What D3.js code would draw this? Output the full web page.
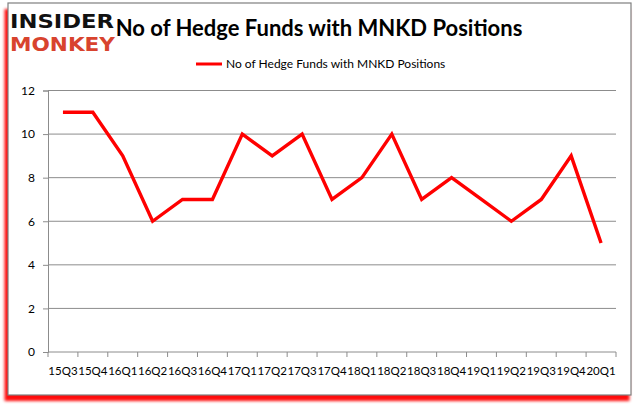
<!DOCTYPE html>
<html><head><meta charset="utf-8">
<script src="https://cdn.jsdelivr.net/npm/d3@7"></script>
<style>
body{margin:0;background:#fff;}
svg{display:block;font-family:Lato,"Liberation Sans",sans-serif;}
</style></head>
<body><svg id="c" width="637" height="408"></svg>
<script>
const categories = ["15Q3","15Q4","16Q1","16Q2","16Q3","16Q4","17Q1","17Q2","17Q3","17Q4","18Q1","18Q2","18Q3","18Q4","19Q1","19Q2","19Q3","19Q4","20Q1"];
const values = [11,11,9,6,7,7,10,9,10,7,8,10,7,8,7,6,7,9,5];
const yTicks = [0,2,4,6,8,10,12];
const seriesName = "No of Hedge Funds with MNKD Positions";
const titleText = "No of Hedge Funds with MNKD Positions";

const svg = d3.select("#c");
const defs = svg.append("defs");
const f = defs.append("filter").attr("id","sh").attr("x","-5%").attr("y","-5%").attr("width","110%").attr("height","112%");
f.append("feGaussianBlur").attr("stdDeviation",1.8);

// shadow (offset down-left)
svg.append("rect").attr("x",4.5).attr("y",9).attr("width",625).attr("height",392)
  .attr("fill","#ff0000").attr("opacity",0.95).attr("filter","url(#sh)");
svg.append("rect").attr("x",8).attr("y",3).attr("width",623).attr("height",392)
  .attr("fill","#fff").attr("stroke","#7f7f7f").attr("stroke-width",1.2);

const x0 = 48, x1 = 616, yTop = 90.5, yBot = 352;
const x = d3.scaleBand().domain(categories).range([x0,x1]);
const y = d3.scaleLinear().domain([0,12]).range([yBot,yTop]);

// gridlines
svg.append("g").selectAll("line").data(yTicks.filter(d=>d>0)).join("line")
  .attr("x1",x0).attr("x2",x1).attr("y1",d=>y(d)).attr("y2",d=>y(d))
  .attr("stroke","#8c8c8c").attr("stroke-width",1);

// y axis
const ya = svg.append("g").attr("transform",`translate(${x0},0)`)
  .call(d3.axisLeft(y).tickValues(yTicks).tickSize(5).tickPadding(8));
ya.select(".domain").attr("stroke","#8c8c8c");
ya.selectAll(".tick line").attr("stroke","#8c8c8c");
ya.selectAll("text").attr("font-size",12).attr("fill","#000").attr("font-family","Lato,sans-serif");

// x axis
const xa = svg.append("g").attr("transform",`translate(0,${yBot})`)
  .call(d3.axisBottom(x).tickSize(0).tickPadding(15));
xa.select(".domain").attr("stroke","#8c8c8c").attr("d",`M${x0},0H${x1}`);
xa.selectAll("text").attr("font-size",11.5).attr("fill","#000").attr("font-family","Lato,sans-serif");
xa.append("g").selectAll("line").data(categories.concat(["end"])).join("line")
  .attr("x1",(d,i)=> i<categories.length ? x(d) : x1)
  .attr("x2",(d,i)=> i<categories.length ? x(d) : x1)
  .attr("y1",0).attr("y2",5).attr("stroke","#8c8c8c");

// line
const line = d3.line().x((d,i)=>x(categories[i])+x.bandwidth()/2).y(d=>y(d));
svg.append("path").datum(values).attr("d",line).attr("fill","none")
  .attr("stroke","#ff0000").attr("stroke-width",3.4).attr("stroke-linejoin","miter");

// title
svg.append("text").attr("x",319).attr("y",36).attr("text-anchor","middle")
  .attr("font-size",22).attr("font-weight","bold").attr("fill","#000").text(titleText);

// legend
svg.append("line").attr("x1",196).attr("x2",222).attr("y1",64).attr("y2",64)
  .attr("stroke","#ff0000").attr("stroke-width",3);
svg.append("text").attr("x",226).attr("y",68).attr("font-size",12).attr("fill","#000").text(seriesName);

// logo
svg.append("text").attr("x",10).attr("y",27.5).attr("font-size",19.5).attr("font-weight",900)
  .attr("font-family","'DejaVu Sans',sans-serif").attr("fill","#111").attr("textLength",104).attr("lengthAdjust","spacingAndGlyphs").text("INSIDER");
svg.append("text").attr("x",10).attr("y",50.5).attr("font-size",19.5).attr("font-weight",900)
  .attr("font-family","'DejaVu Sans',sans-serif").attr("fill","#d8432e").attr("textLength",105).attr("lengthAdjust","spacingAndGlyphs").text("MONKEY");
</script></body></html>
